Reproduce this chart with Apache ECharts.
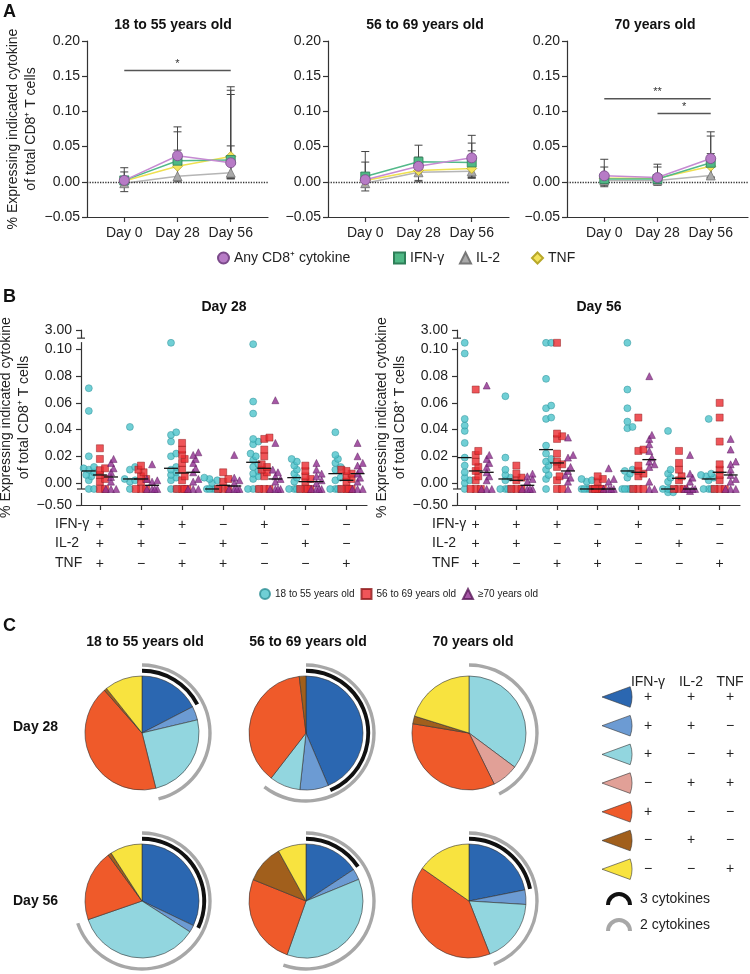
<!DOCTYPE html>
<html>
<head>
<meta charset="utf-8">
<title>CD8 cytokine responses</title>
<script src="https://cdn.jsdelivr.net/npm/echarts@6.0.0/dist/echarts.min.js"></script>
<style>
  html, body { margin: 0; padding: 0; background: #fff; }
  #chart { width: 750px; height: 974px; }
</style>
</head>
<body>
<div id="chart"></div>
<script>
// ---------- panel A: mean responses over time ----------
const days = ['Day 0', 'Day 28', 'Day 56'];
const agesA = ['18 to 55 years old', '56 to 69 years old', '70 years old'];
const cytokinesA = ['Any CD8⁺ cytokine', 'IFN-γ', 'IL-2', 'TNF'];
// one row per age group, values at day 0 / 28 / 56
const anyCD8 = [[0.002, 0.037, 0.027], [0.003, 0.022, 0.034], [0.0085, 0.006, 0.033]];
const ifnA = [[0.002, 0.030, 0.031], [0.0075, 0.0285, 0.0275], [0.004, 0.004, 0.027]];
const il2A = [[-0.002, 0.008, 0.013], [-0.002, 0.0135, 0.015], [0.002, 0.002, 0.009]];
const tnfA = [[0.001, 0.022, 0.036], [0.002, 0.016, 0.019], [0.005, 0.005, 0.022]];
// error bars: [day index, lower, upper]
const errYoung = [[0, -0.014, 0.020], [0, -0.007, 0.014], [1, 0.000, 0.078], [1, 0.002, 0.071], [1, 0.002, 0.045],
  [2, 0.004, 0.135], [2, 0.005, 0.130], [2, 0.005, 0.124], [2, 0.006, 0.051]];
const errMid = [[0, -0.013, 0.043], [0, -0.008, 0.028], [1, 0.000, 0.052], [1, 0.002, 0.035],
  [2, 0.005, 0.066], [2, 0.006, 0.055], [2, 0.007, 0.044]];
const errOld = [[0, -0.007, 0.032], [0, -0.005, 0.021], [1, -0.005, 0.025], [1, -0.003, 0.021],
  [2, 0.005, 0.071], [2, 0.006, 0.065], [2, 0.007, 0.040]];
// significance bars: [age group, from day, to day, height]
const sigBars = [[0, 0, 2, 0.158], [2, 0, 2, 0.118], [2, 1, 2, 0.097]];
const sigLabels = ['*', '**', '*'];

// ---------- panel B: individual responses by cytokine combination ----------
const dayB = ['Day 28', 'Day 56'];
const agesB = ['18 to 55 years old', '56 to 69 years old', '≥70 years old'];
const markerRows = ['IFN-γ', 'IL-2', 'TNF'];
const combos = [['+', '+', '+'], ['+', '+', '−'], ['+', '−', '+'], ['−', '+', '+'], ['+', '−', '−'], ['−', '+', '−'], ['−', '−', '+']];
const yTickValsB = [-0.0165, 0, 0.02, 0.04, 0.06, 0.08, 0.10, 0.1146];
const yTickLabsB = ['−0.50', '0.00', '0.02', '0.04', '0.06', '0.08', '0.10', '3.00'];

const young28 = [
  [0.071, 0.054, 0.020, 0.012, 0.011, 0.010, 0.008, 0.006, 0.005, 0.002, -0.0045, -0.0045],
  [0.042, 0.012, 0.010, 0.003, 0.002, 0.001, -0.0045],
  [0.105, 0.038, 0.036, 0.031, 0.022, 0.020, 0.012, 0.010, 0.008, 0.006, 0.004, 0.002, -0.0045, -0.0045],
  [0.004, 0.003, 0.002, 0.000, -0.0045, -0.0045, -0.0045, -0.0045, -0.0045, -0.0045],
  [0.104, 0.061, 0.052, 0.033, 0.031, 0.029, 0.022, 0.020, 0.017, 0.014, 0.012, 0.009, 0.007, 0.005, 0.003, -0.0045, -0.0045, -0.0045],
  [0.018, 0.016, 0.013, 0.010, 0.007, 0.004, 0.001, -0.0045, -0.0045, -0.0045, -0.0045],
  [0.038, 0.021, 0.018, 0.015, 0.012, 0.010, 0.004, 0.002, -0.0045, -0.0045, -0.0045, -0.0045]
];
const mid28 = [
  [0.026, 0.018, 0.011, 0.0096, 0.006, 0.003, 0.001, -0.0045, -0.0045],
  [0.013, 0.010, 0.008, 0.005, 0.003, 0.001, -0.0045, -0.0045, -0.0045],
  [0.030, 0.025, 0.021, 0.018, 0.015, 0.010, 0.005, 0.002, -0.0045, -0.0045, -0.0045, -0.0045],
  [0.008, 0.003, 0.001, -0.0045, -0.0045, -0.0045],
  [0.034, 0.033, 0.025, 0.020, 0.014, 0.012, 0.010, 0.008, 0.005, -0.0045, -0.0045, -0.0045],
  [0.013, 0.009, 0.005, 0.003, 0.001, -0.0045, -0.0045, -0.0045, -0.0045],
  [0.010, 0.009, 0.007, 0.005, 0.003, 0.001, -0.0045, -0.0045, -0.0045, -0.0045]
];
const old28 = [
  [0.018, 0.015, 0.011, 0.008, 0.0045, 0.001, -0.0045, -0.0045, -0.0045],
  [0.014, 0.003, 0.002, 0.001, -0.0045, -0.0045, -0.0045, -0.0045],
  [0.023, 0.021, 0.018, 0.015, 0.011, 0.008, 0.003, 0.001, -0.0045, -0.0045, -0.0045],
  [0.021, 0.004, 0.002, 0.000, -0.0045, -0.0045, -0.0045, -0.0045],
  [0.062, 0.030, 0.010, 0.008, 0.005, 0.003, 0.001, -0.0045, -0.0045, -0.0045, -0.0045],
  [0.015, 0.010, 0.007, 0.005, 0.002, 0.000, -0.0045, -0.0045, -0.0045, -0.0045],
  [0.030, 0.020, 0.015, 0.013, 0.010, 0.007, 0.004, 0.001, -0.0045, -0.0045, -0.0045]
];
const young56 = [
  [0.105, 0.097, 0.048, 0.043, 0.039, 0.030, 0.019, 0.013, 0.008, 0.004, 0.002, 0.000, -0.0045],
  [0.065, 0.019, 0.010, 0.006, 0.004, 0.002, -0.0045, -0.0045, -0.0045, -0.0045],
  [0.105, 0.105, 0.078, 0.058, 0.056, 0.049, 0.048, 0.028, 0.022, 0.018, 0.016, 0.013, 0.010, 0.006, 0.003, -0.0045],
  [0.003, 0.002, 0.001, -0.0045, -0.0045, -0.0045, -0.0045, -0.0045],
  [0.105, 0.070, 0.056, 0.046, 0.042, 0.041, 0.010, 0.009, 0.007, 0.004, -0.0045, -0.0045, -0.0045, -0.0045, -0.0045],
  [0.039, 0.010, 0.007, 0.004, 0.001, -0.0045, -0.0045, -0.0045, -0.0045, -0.007, -0.007],
  [0.048, 0.007, 0.006, 0.005, 0.004, 0.002, -0.0045, -0.0045, -0.0045, -0.0045]
];
const mid56 = [
  [0.070, 0.024, 0.021, 0.016, 0.012, 0.009, 0.005, 0.002, -0.0045, -0.0045, -0.0045],
  [0.013, 0.007, 0.004, 0.002, -0.0045, -0.0045, -0.0045],
  [0.105, 0.037, 0.035, 0.033, 0.022, 0.016, 0.014, 0.012, 0.005, 0.002, -0.0045, -0.0045],
  [0.005, 0.003, 0.001, -0.0045, -0.0045, -0.0045, -0.0045, -0.0045],
  [0.049, 0.025, 0.024, 0.013, 0.009, 0.007, 0.005, -0.0045, -0.0045, -0.0045],
  [0.024, 0.015, 0.010, 0.005, 0.002, -0.0045, -0.0045, -0.0045],
  [0.060, 0.049, 0.031, 0.014, 0.010, 0.006, 0.002, -0.0045, -0.0045, -0.0045]
];
const old56 = [
  [0.073, 0.021, 0.018, 0.015, 0.012, 0.008, 0.005, 0.002, -0.0045, -0.0045, -0.0045],
  [0.007, 0.005, 0.003, 0.001, -0.0045, -0.0045, -0.0045, -0.0045],
  [0.034, 0.021, 0.019, 0.012, 0.009, 0.006, 0.004, 0.001, -0.0045],
  [0.011, 0.003, 0.001, -0.0045, -0.0045, -0.0045, -0.0045],
  [0.080, 0.036, 0.033, 0.029, 0.024, 0.019, 0.016, 0.014, 0.012, 0.001, -0.0045, -0.0045],
  [0.021, 0.007, 0.004, 0.001, -0.0045, -0.0045, -0.0045, -0.0045, -0.006],
  [0.033, 0.025, 0.016, 0.014, 0.010, 0.006, 0.003, 0.001, -0.0045, -0.0045, -0.0045]
];

// ---------- panel C: share of each combination (%), same order as combos ----------
const pie28 = [
  [17.4, 3.9, 24.8, 0, 42.4, 0.8, 10.7],
  [43.6, 8.1, 8.75, 0, 37.6, 1.9, 0],
  [0, 0, 35.2, 7.5, 34.9, 2.2, 20.2]
];
const pie56 = [
  [32.1, 2.0, 35.6, 0, 20.2, 1.0, 9.1],
  [15.7, 3.1, 36.6, 0, 25.7, 10.9, 8.0],
  [21.9, 4.1, 18.1, 0, 40.7, 0, 15.3]
];

// ---------- styling ----------
const FONT = '"Liberation Sans", Arial, Helvetica, sans-serif';
const INK = '#222';
const AXIS = '#333';
const lineLooks = [
  { sym: 'circle', size: 10, fill: '#B77BC6', edge: '#7B4A8A', line: '#C68AD2' },
  { sym: 'rect', size: 9, fill: '#4FB885', edge: '#2E7F58', line: '#52B989' },
  { sym: 'triangle', size: 9, fill: '#A9A9A9', edge: '#777777', line: '#B5B5B5' },
  { sym: 'diamond', size: 10, fill: '#F3E35B', edge: '#B8A82A', line: '#EFE050' }
];
const dotLooks = [
  { sym: 'circle', fill: '#4CC3CB', edge: '#2D8E95' },
  { sym: 'rect', fill: '#EB2B2F', edge: '#8E1A1C' },
  { sym: 'triangle', fill: '#8E2D8E', edge: '#5A1A5A' }
];
const pieColors = ['#2B67B1', '#6C9BD3', '#92D6DF', '#E1A097', '#EF5A2A', '#A15F1C', '#F8E33F'];
const yName = '% Expressing indicated cytokine\nof total CD8⁺ T cells';

const chart = echarts.init(document.getElementById('chart'));

const median = arr => {
  const s = arr.slice().sort((a, b) => a - b);
  const m = Math.floor(s.length / 2);
  return s.length % 2 ? s[m] : (s[m - 1] + s[m]) / 2;
};
const fmt2 = v => (Math.abs(v) < 1e-9 ? 0 : v).toFixed(2).replace('-', '−');

// spread overlapping dots sideways a little, returns [x, value] pairs
function swarm(values, center) {
  const pxX = 41.1, pxY = 1335, gap = 2.6, minDist = 4.6, maxStep = 3;
  const placed = [];
  const out = [];
  values.slice().sort((a, b) => a - b).forEach(v => {
    const py = v * pxY;
    let px = 0;
    let best = Infinity;
    for (let k = 0; k <= maxStep * 2; k++) {
      const step = (k % 2 ? 1 : -1) * Math.ceil(k / 2);
      const near = Math.min(Infinity, ...placed.map(p => Math.hypot(p[0] - step * gap, p[1] - py)));
      if (near >= minDist) { px = step * gap; break; }
      if (k === 0 || near > best + 0.5) { best = near; px = step * gap; }
    }
    placed.push([px, py]);
    out.push([center + px / pxX, v]);
  });
  return out;
}

function renderErr(params, api) {
  const lo = api.coord([api.value(0), api.value(1)]);
  const hi = api.coord([api.value(0), api.value(2)]);
  const style = { stroke: '#444', lineWidth: 1 };
  return {
    type: 'group',
    children: [
      { type: 'line', shape: { x1: lo[0], y1: lo[1], x2: hi[0], y2: hi[1] }, style },
      { type: 'line', shape: { x1: lo[0] - 4, y1: lo[1], x2: lo[0] + 4, y2: lo[1] }, style },
      { type: 'line', shape: { x1: hi[0] - 4, y1: hi[1], x2: hi[0] + 4, y2: hi[1] }, style }
    ]
  };
}

function renderMedian(params, api) {
  const p = api.coord([api.value(0), api.value(1)]);
  return { type: 'line', shape: { x1: p[0] - 7, y1: p[1], x2: p[0] + 7, y2: p[1] }, style: { stroke: '#111', lineWidth: 1.3 } };
}

// ---------- layout ----------
const gridsA = [87, 328, 567].map(left => ({ left, top: 41, width: 181, height: 176, outerBoundsMode: 'none' }));
const gridsB = [
  { left: 81, top: 330, width: 286, height: 175, outerBoundsMode: 'none' },
  { left: 457, top: 330, width: 283, height: 175, outerBoundsMode: 'none' }
];

const xAxis = [];
const yAxis = [];
const series = [];
const axisLine = { show: true, onZero: false, lineStyle: { color: AXIS, width: 1.2 } };
const tickStyle = { color: AXIS, width: 1.2 };

gridsA.forEach((g, i) => {
  xAxis.push({
    type: 'value', gridIndex: i, min: -0.7, max: 2.7,
    axisLine,
    axisTick: { show: true, customValues: [0, 1, 2], length: 5, lineStyle: tickStyle },
    axisLabel: { customValues: [0, 1, 2], formatter: v => days[Math.round(v)], fontSize: 14, color: INK, margin: 9 },
    splitLine: { show: false }
  });
  yAxis.push({
    type: 'value', gridIndex: i, min: -0.05, max: 0.2, interval: 0.05,
    name: i === 0 ? yName : '', nameLocation: 'middle', nameGap: 47,
    nameTextStyle: { fontSize: 14, lineHeight: 18, color: INK },
    axisLine,
    axisTick: { show: true, length: 5, lineStyle: tickStyle },
    axisLabel: { formatter: fmt2, fontSize: 14, color: INK, margin: 7 },
    splitLine: { show: false }
  });
});

gridsB.forEach((g, d) => {
  const idx = 3 + d;
  const groups = combos.map((c, k) => k);
  xAxis.push({
    type: 'value', gridIndex: idx, min: -0.46, max: 6.5,
    axisLine,
    axisTick: { show: true, customValues: groups, length: 5, lineStyle: tickStyle },
    axisLabel: { customValues: groups, formatter: v => combos[Math.round(v)].join('\n'), fontSize: 14, lineHeight: 19.5, color: INK, margin: 10 },
    splitLine: { show: false }
  });
  yAxis.push({
    type: 'value', gridIndex: idx, min: yTickValsB[0], max: yTickValsB[yTickValsB.length - 1],
    name: yName, nameLocation: 'middle', nameGap: d === 0 ? 44 : 46,
    nameTextStyle: { fontSize: 14, lineHeight: 18, color: INK },
    axisLine,
    axisTick: { show: true, customValues: yTickValsB, length: 5, lineStyle: tickStyle },
    axisLabel: {
      customValues: yTickValsB,
      formatter: v => yTickLabsB[yTickValsB.findIndex(t => Math.abs(t - v) < 1e-6)],
      fontSize: 14, color: INK, margin: 9
    },
    splitLine: { show: false }
  });
});

// panel A series
const meansA = [anyCD8, ifnA, il2A, tnfA];
const errA = [errYoung, errMid, errOld];
agesA.forEach((age, g) => {
  series.push({
    type: 'custom', xAxisIndex: g, yAxisIndex: g, silent: true, z: 1,
    encode: { x: 0, y: [1, 2] }, data: errA[g], renderItem: renderErr
  });
  [2, 3, 1, 0].forEach((c, order) => {
    const look = lineLooks[c];
    const s = {
      type: 'line', name: cytokinesA[c], xAxisIndex: g, yAxisIndex: g, z: 3 + order,
      data: meansA[c][g].map((v, k) => [k, v]),
      symbol: look.sym, symbolSize: look.size, showSymbol: true,
      lineStyle: { color: look.line, width: 1.5 },
      itemStyle: { color: look.fill, borderColor: look.edge, borderWidth: 0.8 },
      emphasis: { disabled: true }, silent: true
    };
    if (order === 0) {
      s.markLine = {
        silent: true, symbol: 'none', label: { show: false },
        lineStyle: { type: 'dotted', color: '#333', width: 1.3 },
        data: [{ yAxis: 0 }]
      };
    }
    series.push(s);
  });
  const mine = sigBars.map((b, k) => k).filter(k => sigBars[k][0] === g);
  if (mine.length) {
    series.push({
      type: 'custom', xAxisIndex: g, yAxisIndex: g, silent: true, z: 10,
      data: mine.map(k => sigBars[k].slice(1)),
      renderItem: (params, api) => {
        const a = api.coord([api.value(0), api.value(2)]);
        const b = api.coord([api.value(1), api.value(2)]);
        return {
          type: 'group',
          children: [
            { type: 'line', shape: { x1: a[0], y1: a[1], x2: b[0], y2: b[1] }, style: { stroke: '#555', lineWidth: 1.4 } },
            { type: 'text', style: { text: sigLabels[mine[params.dataIndex]], x: (a[0] + b[0]) / 2, y: a[1] - 1, align: 'center', verticalAlign: 'bottom', fontSize: 11, fill: '#333', fontFamily: FONT } }
          ]
        };
      }
    });
  }
});

// panel B series
const ageOffset = [-0.27, 0, 0.27];
[[young28, mid28, old28], [young56, mid56, old56]].forEach((byAge, d) => {
  const idx = 3 + d;
  byAge.forEach((groups, a) => {
    const look = dotLooks[a];
    series.push({
      type: 'scatter', name: agesB[a], xAxisIndex: idx, yAxisIndex: idx, z: 3,
      symbol: look.sym, symbolSize: 7,
      itemStyle: { color: look.fill, borderColor: look.edge, borderWidth: 0.6 },
      data: groups.flatMap((vals, g) => swarm(vals, g + ageOffset[a])),
      emphasis: { disabled: true }, silent: true
    });
  });
  series.push({
    type: 'custom', xAxisIndex: idx, yAxisIndex: idx, silent: true, z: 5,
    data: byAge.flatMap((groups, a) => groups.map((vals, g) => [g + ageOffset[a], median(vals)])),
    renderItem: renderMedian
  });
});

// panel C pies with rings for 3- and 2-cytokine fractions
const pieX = [142, 306, 469];
const pieY = [733, 901];
const ring = (center, radius, part, total, color) => ({
  type: 'pie', center, radius, startAngle: 90, clockwise: true, silent: true,
  label: { show: false }, labelLine: { show: false }, emphasis: { disabled: true },
  itemStyle: { borderWidth: 0 },
  data: [{ value: part, itemStyle: { color } }, { value: total - part, itemStyle: { color: 'rgba(0,0,0,0)' } }]
});
[pie28, pie56].forEach((row, r) => {
  row.forEach((fr, c) => {
    const center = [pieX[c], pieY[r]];
    const total = fr.reduce((s, v) => s + v, 0);
    series.push({
      type: 'pie', center, radius: 57, startAngle: 90, clockwise: true, silent: true,
      label: { show: false }, labelLine: { show: false }, emphasis: { disabled: true },
      itemStyle: { borderColor: '#333', borderWidth: 0.6 },
      data: fr.map((v, k) => ({ value: v, name: combos[k].join(''), itemStyle: { color: pieColors[k] } })).filter(p => p.value > 0)
    });
    const triple = fr[0];
    const twoPlus = fr[0] + fr[1] + fr[2] + fr[3];
    if (twoPlus > 0) series.push(ring(center, [66.3, 69.7], twoPlus, total, '#A7A7A7'));
    if (triple > 0) series.push(ring(center, [60.3, 64.2], triple, total, '#111'));
  });
});

// ---------- titles and legends ----------
const bold = size => ({ fontSize: size, fontWeight: 'bold', color: '#111', fontFamily: FONT });
const titles = [
  { text: 'A', left: 3, top: 3, padding: 0, textStyle: bold(18) },
  { text: 'B', left: 3, top: 288, padding: 0, textStyle: bold(18) },
  { text: 'C', left: 3, top: 617, padding: 0, textStyle: bold(18) }
];
agesA.forEach((t, i) => titles.push({ text: t, left: [173, 425, 655][i], top: 18, textAlign: 'center', padding: 0, textStyle: bold(14) }));
dayB.forEach((t, i) => titles.push({ text: t, left: [224, 599][i], top: 300, textAlign: 'center', padding: 0, textStyle: bold(14) }));
agesA.forEach((t, i) => titles.push({ text: t, left: [145, 308, 473][i], top: 635, textAlign: 'center', padding: 0, textStyle: bold(14) }));
dayB.forEach((t, i) => titles.push({ text: t, left: 13, top: [720, 894][i], padding: 0, textStyle: bold(14) }));

const legendA = cytokinesA.map((name, c) => ({
  data: [{ name, icon: lineLooks[c].sym }],
  left: [217, 393, 459, 531][c], top: 251, padding: 0,
  itemWidth: 11, itemHeight: 11, selectedMode: false,
  textStyle: { fontSize: 14, color: INK, fontFamily: FONT }
}));
const legendB = {
  data: agesB.map((name, a) => ({ name, icon: dotLooks[a].sym })),
  left: 259, top: 588, padding: 0, itemGap: 6,
  itemWidth: 10, itemHeight: 10, selectedMode: false,
  textStyle: { fontSize: 10, color: INK, fontFamily: FONT }
};

chart.setOption({
  animation: false,
  backgroundColor: '#fff',
  textStyle: { fontFamily: FONT },
  title: titles,
  legend: legendA.concat([legendB]),
  grid: gridsA.concat(gridsB),
  xAxis,
  yAxis,
  series
});

// ---------- decorations: axis breaks, row labels, panel C key ----------
const graphic = [];
[3, 4].forEach(ax => {
  [0.1085, -0.0045].forEach(v => {
    const p = chart.convertToPixel({ xAxisIndex: ax, yAxisIndex: ax }, [xAxis[ax].min, v]);
    graphic.push({ type: 'rect', z: 100, shape: { x: p[0] - 2, y: p[1], width: 4, height: 4 }, style: { fill: '#fff' } });
    graphic.push({ type: 'line', z: 101, shape: { x1: p[0] - 4, y1: p[1], x2: p[0] + 4, y2: p[1] }, style: { stroke: AXIS, lineWidth: 1.2 } });
  });
});
[55, 432].forEach(x => {
  markerRows.forEach((t, r) => {
    graphic.push({ type: 'text', style: { text: t, x, y: 524 + r * 19.5, verticalAlign: 'middle', fontSize: 14, fill: INK, fontFamily: FONT } });
  });
});

const keyCols = [648, 691, 730];
markerRows.forEach((t, k) => {
  graphic.push({ type: 'text', style: { text: t, x: keyCols[k], y: 682, align: 'center', verticalAlign: 'middle', fontSize: 14, fill: INK, fontFamily: FONT } });
});
combos.forEach((signs, i) => {
  const y = 697 + i * 28.7;
  graphic.push({
    type: 'sector', shape: { cx: 602, cy: y, r: 30, r0: 0, startAngle: -0.35, endAngle: 0.35 },
    style: { fill: pieColors[i], stroke: '#333', lineWidth: 0.6 }
  });
  signs.forEach((s, k) => {
    graphic.push({ type: 'text', style: { text: s, x: keyCols[k], y, align: 'center', verticalAlign: 'middle', fontSize: 14, fill: INK, fontFamily: FONT } });
  });
});
[['3 cytokines', '#111', 905], ['2 cytokines', '#A7A7A7', 931]].forEach(([t, col, cy]) => {
  graphic.push({
    type: 'arc', shape: { cx: 619, cy, r: 11, startAngle: Math.PI, endAngle: 2 * Math.PI, clockwise: true },
    style: { stroke: col, lineWidth: 4, fill: 'none' }
  });
  graphic.push({ type: 'text', style: { text: t, x: 640, y: cy - 6, verticalAlign: 'middle', fontSize: 14, fill: INK, fontFamily: FONT } });
});

chart.setOption({ graphic });
</script>
</body>
</html>
